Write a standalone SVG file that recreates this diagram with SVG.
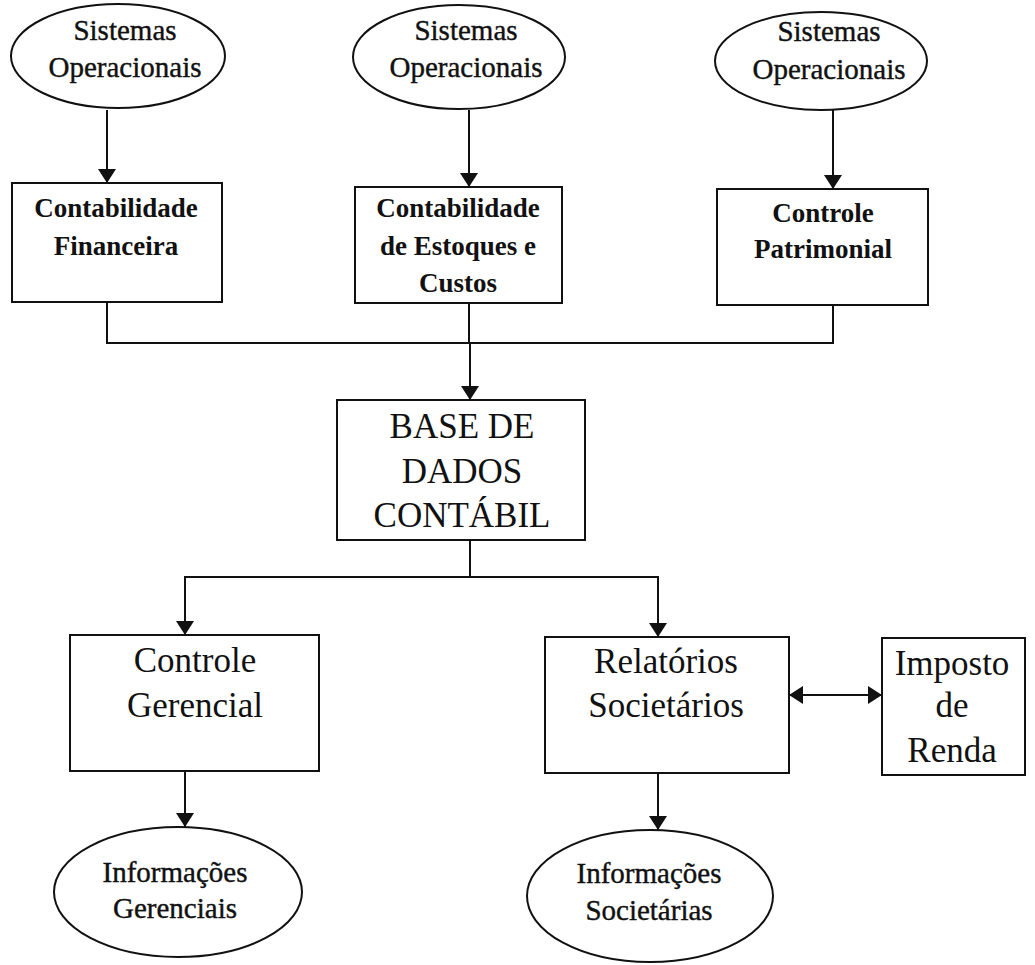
<svg xmlns="http://www.w3.org/2000/svg" width="1035" height="965" viewBox="0 0 1035 965">
  <defs>
    <marker id="arrow" viewBox="0 0 14 18" refX="14" refY="9" markerWidth="14" markerHeight="18" markerUnits="userSpaceOnUse" orient="auto-start-reverse">
      <path d="M0,0 L14,9 L0,18 Z" fill="#111"/>
    </marker>
    <style>
      .shape { fill: #fff; stroke: #111; stroke-width: 2; }
      .wire { fill: none; stroke: #111; stroke-width: 2; }
      text { font-family: "Liberation Serif", "Times New Roman", serif; fill: #111; text-anchor: middle; }
      .oval { font-size: 29px; stroke: #111; stroke-width: 0.4; }
      .bold { font-size: 27px; font-weight: bold; }
      .big { font-size: 35px; }
    </style>
  </defs>
  <rect width="1035" height="965" fill="#fff"/>

  <!-- connectors -->
  <g id="connectors">
    <line class="wire" x1="107" y1="110" x2="107" y2="183" marker-end="url(#arrow)"/>
    <line class="wire" x1="469" y1="110" x2="469" y2="187" marker-end="url(#arrow)"/>
    <line class="wire" x1="833" y1="110" x2="833" y2="189" marker-end="url(#arrow)"/>
    <polyline class="wire" points="107,302 107,343 833,343 833,305"/>
    <line class="wire" x1="469" y1="303" x2="469" y2="343"/>
    <line class="wire" x1="470" y1="343" x2="470" y2="400" marker-end="url(#arrow)"/>
    <line class="wire" x1="470" y1="540" x2="470" y2="577"/>
    <polyline class="wire" points="185,577 658,577 658,637" marker-end="url(#arrow)"/>
    <line class="wire" x1="185" y1="576" x2="185" y2="635" marker-end="url(#arrow)"/>
    <line class="wire" x1="185" y1="771" x2="185" y2="827" marker-end="url(#arrow)"/>
    <line class="wire" x1="658" y1="773" x2="658" y2="830" marker-end="url(#arrow)"/>
    <line class="wire" x1="789" y1="695" x2="882" y2="695" marker-start="url(#arrow)" marker-end="url(#arrow)"/>
  </g>

  <!-- top row: operational systems -->
  <g id="sistemas-1">
    <ellipse class="shape" cx="118" cy="56" rx="107" ry="52"/>
    <text class="oval" x="125" y="40">Sistemas</text>
    <text class="oval" x="125" y="77">Operacionais</text>
  </g>
  <g id="sistemas-2">
    <ellipse class="shape" cx="459" cy="57" rx="106" ry="52"/>
    <text class="oval" x="466" y="40">Sistemas</text>
    <text class="oval" x="466" y="77">Operacionais</text>
  </g>
  <g id="sistemas-3">
    <ellipse class="shape" cx="821" cy="61" rx="106" ry="49"/>
    <text class="oval" x="829" y="41">Sistemas</text>
    <text class="oval" x="829" y="79">Operacionais</text>
  </g>

  <!-- second row: accounting modules -->
  <g id="contabilidade-financeira">
    <rect class="shape" x="12" y="183" width="210" height="119"/>
    <text class="bold" x="116" y="217">Contabilidade</text>
    <text class="bold" x="116" y="255">Financeira</text>
  </g>
  <g id="contabilidade-estoques">
    <rect class="shape" x="355" y="187" width="207" height="116"/>
    <text class="bold" x="458" y="217">Contabilidade</text>
    <text class="bold" x="458" y="255">de Estoques e</text>
    <text class="bold" x="458" y="292">Custos</text>
  </g>
  <g id="controle-patrimonial">
    <rect class="shape" x="717" y="189" width="211" height="116"/>
    <text class="bold" x="823" y="222">Controle</text>
    <text class="bold" x="823" y="258">Patrimonial</text>
  </g>

  <!-- central database -->
  <g id="base-de-dados">
    <rect class="shape" x="337" y="400" width="248" height="140"/>
    <text class="big" x="462" y="438">BASE DE</text>
    <text class="big" x="462" y="483">DADOS</text>
    <text class="big" x="462" y="527">CONTÁBIL</text>
  </g>

  <!-- outputs -->
  <g id="controle-gerencial">
    <rect class="shape" x="70" y="635" width="249" height="136"/>
    <text class="big" x="195" y="672">Controle</text>
    <text class="big" x="195" y="717">Gerencial</text>
  </g>
  <g id="relatorios-societarios">
    <rect class="shape" x="545" y="637" width="244" height="136"/>
    <text class="big" x="666" y="673">Relatórios</text>
    <text class="big" x="666" y="717">Societários</text>
  </g>
  <g id="imposto-de-renda">
    <rect class="shape" x="882" y="638" width="143" height="137"/>
    <text class="big" x="952" y="675">Imposto</text>
    <text class="big" x="952" y="717">de</text>
    <text class="big" x="952" y="762">Renda</text>
  </g>
  <g id="informacoes-gerenciais">
    <ellipse class="shape" cx="178" cy="892" rx="124" ry="65"/>
    <text class="oval" x="175" y="882">Informações</text>
    <text class="oval" x="175" y="918">Gerenciais</text>
  </g>
  <g id="informacoes-societarias">
    <ellipse class="shape" cx="650" cy="896" rx="123" ry="66"/>
    <text class="oval" x="649" y="883">Informações</text>
    <text class="oval" x="649" y="920">Societárias</text>
  </g>
</svg>
